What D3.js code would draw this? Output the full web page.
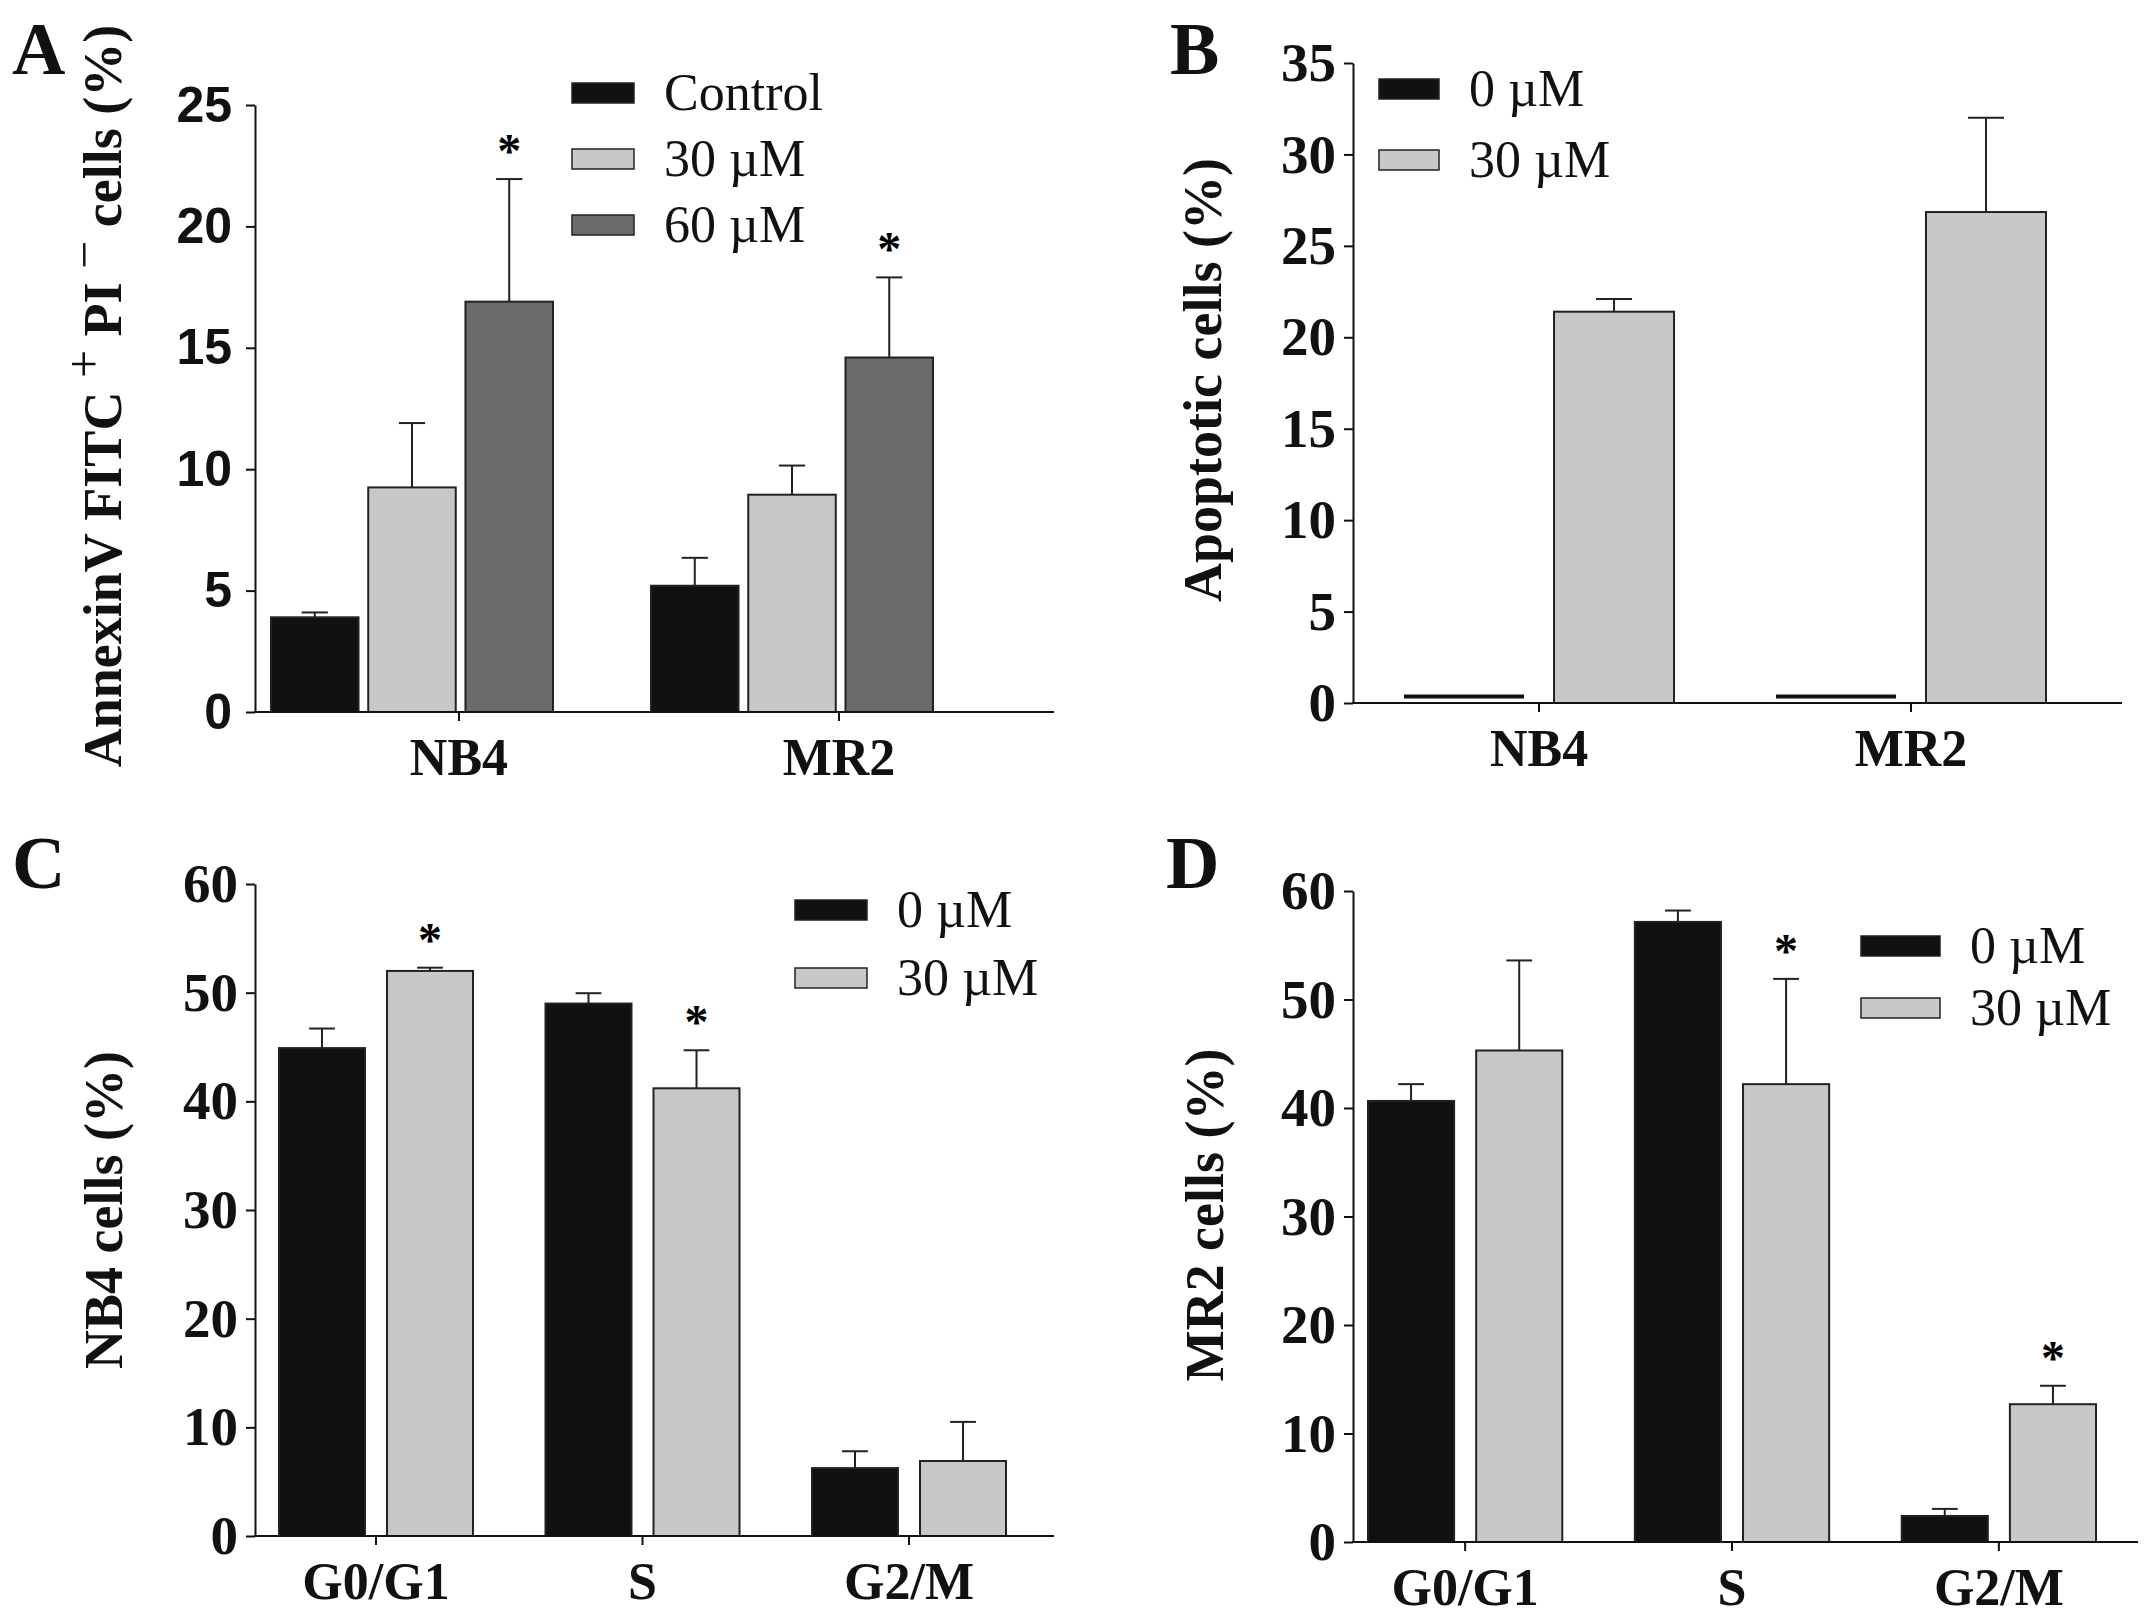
<!DOCTYPE html>
<html>
<head>
<meta charset="utf-8">
<script src="https://cdn.jsdelivr.net/npm/d3@7"></script>
<style>
  body { margin: 0; background: #fff; }
  svg { display: block; }
</style>
</head>
<body>
<svg id="fig" width="2150" height="1618"></svg>
<script>
// categories and series
const cellLines = ["NB4", "MR2"];
const phases = ["G0/G1", "S", "G2/M"];
const seriesA = ["Control", "30 \u00b5M", "60 \u00b5M"];
const seriesDose = ["0 \u00b5M", "30 \u00b5M"];

// A: AnnexinV FITC+ PI- cells (%)
const annexinControl = [3.9, 5.2];
const annexin30 = [9.25, 8.95];
const annexin60 = [16.9, 14.6];
const annexinControlErr = [0.2, 1.15];
const annexin30Err = [2.65, 1.2];
const annexin60Err = [5.05, 3.3];
const annexin60Star = [true, true];

// B: apoptotic cells (%)
const apoptotic0 = [0.35, 0.35];
const apoptotic30 = [21.4, 26.85];
const apoptotic0Err = [0, 0];
const apoptotic30Err = [0.7, 5.15];

// C: NB4 cell cycle (%)
const nb4Dose0 = [44.9, 49.0, 6.25];
const nb4Dose0Err = [1.8, 0.95, 1.55];
const nb4Dose30 = [52.0, 41.2, 6.9];
const nb4Dose30Err = [0.3, 3.5, 3.6];
const nb4Star30 = [true, true, false];

// D: MR2 cell cycle (%)
const mr2Dose0 = [40.65, 57.15, 2.4];
const mr2Dose0Err = [1.55, 1.05, 0.65];
const mr2Dose30 = [45.3, 42.2, 12.7];
const mr2Dose30Err = [8.3, 9.7, 1.7];
const mr2Star30 = [false, true, true];

// tick labels
const ticksA = [0, 5, 10, 15, 20, 25];
const ticksB = [0, 5, 10, 15, 20, 25, 30, 35];
const ticksCD = [0, 10, 20, 30, 40, 50, 60];

const SERIF = "'Liberation Serif', 'Times New Roman', serif";
const SANS = "'Liberation Sans', Arial, sans-serif";
const fills3 = ["#111111", "#c8c8c8", "#6b6b6b"];
const fills2 = ["#111111", "#c8c8c8"];

const svg = d3.select("#fig");
svg.append("rect").attr("width", 2150).attr("height", 1618).attr("fill", "#fff");

function drawPanel(p) {
    const g = svg.append("g");
    const none = p.categories.map(() => false);
    const shift = p.tickShift || 0;

    const y = d3.scaleLinear().domain([0, p.yMax]).range([p.y0, p.yTop]);
    const xg = d3.scaleBand().domain(p.categories).range(p.bandRange).paddingInner(p.padGroup);
    const xs = d3.scaleBand().domain(d3.range(p.series.length))
        .range([0, xg.bandwidth()]).paddingInner(p.padBar);
    const capW = xs.bandwidth() * 0.3;

    p.series.forEach((name, si) => {
        const rows = p.categories.map((c, ci) => ({
            c: c,
            v: p.means[si][ci],
            e: p.errs[si][ci],
            star: (p.stars[si] || none)[ci]
        }));
        const sg = g.append("g");
        const cx = d => xg(d.c) + xs(si) + xs.bandwidth() / 2;

        // error bars (upper only)
        const eb = sg.selectAll(".err").data(rows.filter(d => d.e > 0)).enter().append("g");
        eb.append("line")
            .attr("x1", cx).attr("x2", cx)
            .attr("y1", d => y(d.v)).attr("y2", d => y(d.v + d.e))
            .attr("stroke", "#222").attr("stroke-width", 2);
        eb.append("line")
            .attr("x1", d => cx(d) - capW / 2).attr("x2", d => cx(d) + capW / 2)
            .attr("y1", d => y(d.v + d.e)).attr("y2", d => y(d.v + d.e))
            .attr("stroke", "#222").attr("stroke-width", 2);

        if (p.lineSeries === si) {
            // near-zero bars shown as a flat line
            sg.selectAll(".bar").data(rows).enter().append("line")
                .attr("x1", d => xg(d.c) + xs(si))
                .attr("x2", d => xg(d.c) + xs(si) + xs.bandwidth())
                .attr("y1", d => y(d.v)).attr("y2", d => y(d.v))
                .attr("stroke", "#111").attr("stroke-width", 4);
        } else {
            sg.selectAll(".bar").data(rows).enter().append("rect")
                .attr("x", d => xg(d.c) + xs(si))
                .attr("width", xs.bandwidth())
                .attr("y", d => y(d.v))
                .attr("height", d => y(0) - y(d.v))
                .attr("fill", p.fills[si])
                .attr("stroke", "#222").attr("stroke-width", 2);
        }

        sg.selectAll(".star").data(rows.filter(d => d.star)).enter().append("text")
            .attr("x", cx)
            .attr("y", d => y(d.v + d.e) - 12)
            .attr("text-anchor", "middle")
            .attr("font-family", SERIF).attr("font-weight", "bold")
            .attr("font-size", 48)
            .text("*");
    });

    // y axis
    const ya = g.append("g")
        .attr("transform", `translate(${p.x0},0)`)
        .call(d3.axisLeft(y).tickValues(p.ticks).tickSize(9).tickSizeOuter(0).tickPadding(p.yPad));
    ya.attr("font-family", p.tickFont).attr("font-weight", "bold").attr("font-size", p.tickSize);
    ya.selectAll("path, line").attr("stroke", "#111").attr("stroke-width", 2);
    ya.selectAll("text").attr("fill", "#111");

    // x axis (category ticks can sit off the group centre, as in panel A)
    const xa = g.append("g")
        .attr("transform", `translate(${shift},${p.y0})`)
        .call(d3.axisBottom(xg).tickSize(9).tickSizeOuter(0).tickPadding(17));
    xa.select(".domain").remove();
    xa.append("line").attr("x1", p.x0 - 1 - shift).attr("x2", p.x1 - shift).attr("y1", 0).attr("y2", 0)
        .attr("stroke", "#111").attr("stroke-width", 2);
    xa.attr("font-family", SERIF).attr("font-weight", "bold").attr("font-size", 52);
    xa.selectAll(".tick line").attr("stroke", "#111").attr("stroke-width", 2);
    xa.selectAll("text").attr("fill", "#111");

    // y label
    const yl = g.append("text")
        .attr("transform", `translate(${p.labelX},${p.labelY}) rotate(-90)`)
        .attr("text-anchor", "middle").attr("dy", "0.35em")
        .attr("font-family", SERIF).attr("font-weight", "bold").attr("font-size", 54)
        .attr("fill", "#111");
    p.yLabel.forEach(part => {
        const t = yl.append("tspan").text(part.t);
        if (part.sup) t.attr("baseline-shift", "40%").attr("font-weight", "normal").attr("font-size", 50);
    });

    // panel letter
    g.append("text")
        .attr("x", p.letterX).attr("y", p.letterY)
        .attr("font-family", SERIF).attr("font-weight", "bold").attr("font-size", 74)
        .attr("fill", "#111")
        .text(p.letter);

    // legend
    const lg = g.append("g").selectAll("g").data(p.series).enter().append("g")
        .attr("transform", (d, i) => `translate(${p.legX},${p.legY + i * p.legStep})`);
    lg.append("rect")
        .attr("x", 0).attr("y", -10).attr("width", p.legW).attr("height", 20)
        .attr("fill", (d, i) => p.fills[i]).attr("stroke", "#222").attr("stroke-width", 1.5);
    lg.append("text")
        .attr("x", p.legW + 30).attr("y", 17)
        .attr("font-family", SERIF).attr("font-size", 52).attr("fill", "#111")
        .text(d => d);
}

drawPanel({
    letter: "A", letterX: 12, letterY: 74,
    categories: cellLines, series: seriesA, fills: fills3,
    means: [annexinControl, annexin30, annexin60],
    errs: [annexinControlErr, annexin30Err, annexin60Err],
    stars: [null, null, annexin60Star],
    yMax: 25, ticks: ticksA, y0: 712, yTop: 105,
    x0: 255, x1: 1054, bandRange: [271, 933], padGroup: 0.258, padBar: 0.1,
    tickShift: 47,
    tickFont: SANS, tickSize: 50, yPad: 14,
    yLabel: [{t: "AnnexinV FITC "}, {t: "+", sup: true}, {t: " PI "}, {t: "\u2212", sup: true}, {t: " cells (%)"}],
    labelX: 102, labelY: 396,
    legX: 572, legY: 93, legStep: 66, legW: 62
});

drawPanel({
    letter: "B", letterX: 1170, letterY: 74,
    categories: cellLines, series: seriesDose, fills: fills2,
    means: [apoptotic0, apoptotic30],
    errs: [apoptotic0Err, apoptotic30Err],
    stars: [null, null], lineSeries: 0,
    yMax: 35, ticks: ticksB, y0: 703, yTop: 63,
    x0: 1353, x1: 2122, bandRange: [1404, 2046], padGroup: 0.274, padBar: 0.2,
    tickFont: SERIF, tickSize: 55, yPad: 8,
    yLabel: [{t: "Apoptotic cells (%)"}],
    labelX: 1202, labelY: 380,
    legX: 1379, legY: 89, legStep: 71, legW: 60
});

drawPanel({
    letter: "C", letterX: 12, letterY: 888,
    categories: phases, series: seriesDose, fills: fills2,
    means: [nb4Dose0, nb4Dose30],
    errs: [nb4Dose0Err, nb4Dose30Err],
    stars: [null, nb4Star30],
    yMax: 60, ticks: ticksCD, y0: 1536, yTop: 884,
    x0: 255, x1: 1054, bandRange: [279, 1006], padGroup: 0.272, padBar: 0.204,
    tickFont: SERIF, tickSize: 55, yPad: 8,
    yLabel: [{t: "NB4 cells (%)"}],
    labelX: 103, labelY: 1210,
    legX: 795, legY: 910, legStep: 68, legW: 72
});

drawPanel({
    letter: "D", letterX: 1166, letterY: 888,
    categories: phases, series: seriesDose, fills: fills2,
    means: [mr2Dose0, mr2Dose30],
    errs: [mr2Dose0Err, mr2Dose30Err],
    stars: [null, mr2Star30],
    yMax: 60, ticks: ticksCD, y0: 1542, yTop: 891,
    x0: 1353, x1: 2138, bandRange: [1368, 2096], padGroup: 0.272, padBar: 0.204,
    tickFont: SERIF, tickSize: 55, yPad: 8,
    yLabel: [{t: "MR2 cells (%)"}],
    labelX: 1204, labelY: 1215,
    legX: 1861, legY: 946, legStep: 62, legW: 79
});
</script>
</body>
</html>
